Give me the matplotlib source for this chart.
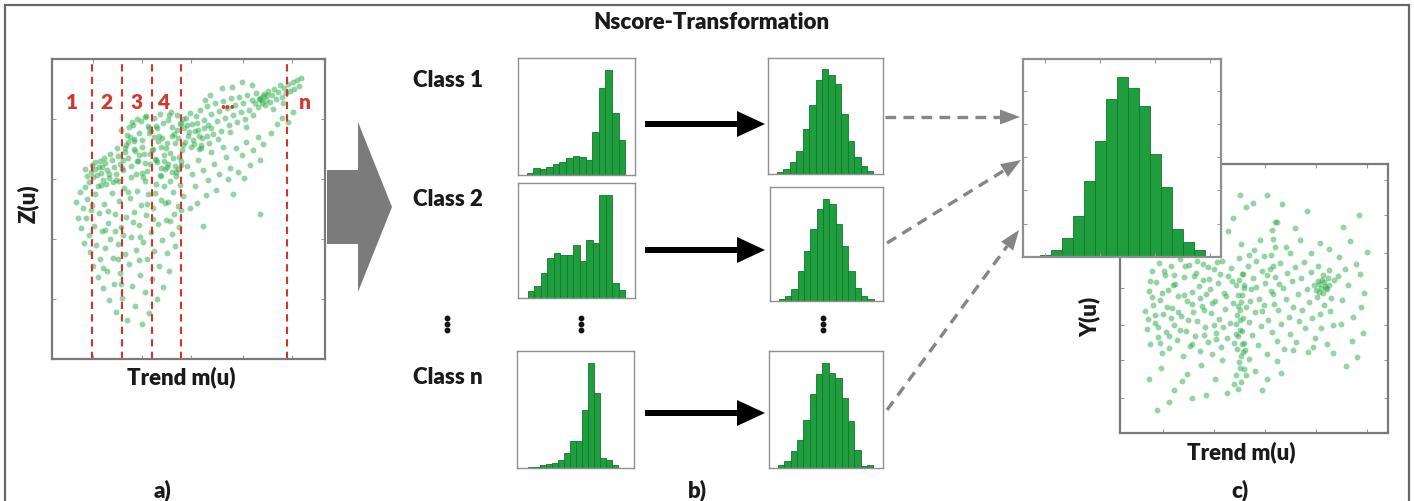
import numpy as np
import matplotlib
matplotlib.use("Agg")
import matplotlib.pyplot as plt
from matplotlib.patches import Polygon, FancyArrow

plt.rcParams['font.family'] = ['Lato', 'DejaVu Sans']

# ---------------- data ----------------
# scatter a) : trend m(u) vs Z(u)  (axis-fraction units 0..100), by region of the cloud
a_band_left = [(14.2,62.5),(15.1,60.8),(15.8,63.4),(16.5,61.2),(17.3,64.0),(18.0,62.1),(18.8,59.7),(19.5,65.2),
               (20.3,63.0),(21.0,60.4),(21.8,66.5),(22.6,64.1),(23.3,61.8),(24.1,67.8),(24.8,65.0),(13.6,58.9),
               (16.9,57.6),(19.9,58.3),(22.2,59.1),(14.8,64.7),(17.7,66.0),(21.4,68.2),(23.9,70.3),(20.7,61.6),(18.4,63.9),
               (13.0,61.0),(12.2,63.5),(15.6,65.8),(19.0,67.0),(24.5,59.3)]
a_dense_upper_x = [25.3,26.8,27.4,28.9,29.6,30.2,31.7,32.5,33.1,34.8,35.4,36.9,37.3,38.6,39.2,40.7,41.5,42.3,43.8,44.4,
                   45.9,46.2,47.6,26.1,27.9,29.2,30.8,32.0,33.6,34.1,35.9,37.5,38.0,39.8,41.0,42.9,44.0,45.3,46.8,47.9,
                   25.8,28.3,30.5,31.1,33.9,36.2,38.9,40.1,42.6,43.1,45.7,47.1,26.6,29.9,32.8,35.0,37.8,39.5,41.9,44.7,
                   46.5,48.0,27.2,31.4,34.5,36.6,40.4,43.5,46.0,28.7,33.3,38.3,41.2,44.9,30.0,35.7,42.0,47.3,
                   48.8,50.2,51.7,53.0,54.5,55.6,56.9,58.2,49.5,52.4,54.0,57.5,50.9,53.8,47.2,45.0,42.5,40.0,38.2,36.0,
                   33.0,31.0,28.0,26.0]
a_dense_upper_y = [76.2,70.5,74.8,64.3,78.1,72.6,67.9,79.4,73.0,62.8,76.9,70.1,80.3,65.7,74.2,78.8,63.5,71.9,77.4,67.0,
                   81.2,73.6,69.8,66.4,72.3,79.0,61.7,75.5,68.2,80.7,64.9,73.9,77.8,70.8,66.1,81.5,74.5,62.3,78.3,71.4,
                   63.8,77.2,69.3,80.1,65.2,75.9,72.7,61.1,79.6,68.7,76.4,64.6,68.9,73.3,62.0,77.6,66.8,81.8,70.4,75.1,
                   67.5,79.9,71.2,65.9,80.9,69.6,73.7,82.4,63.2,74.0,60.8,77.0,68.0,72.1,70.0,75.3,64.0,78.6,
                   72.3,75.6,73.0,78.8,71.2,76.9,74.3,77.1,78.0,76.0,74.4,72.1,70.6,69.9,66.0,64.5,65.0,63.6,66.3,68.5,
                   70.6,66.0,67.1,63.0]
a_lower = [(8.9,52.3),(9.6,47.1),(10.3,55.8),(10.8,43.6),(11.4,50.2),(11.9,38.7),(12.5,46.9),(12.8,53.4),(13.4,41.2),
           (13.9,35.6),(14.3,49.8),(14.9,30.9),(15.4,44.3),(15.8,54.9),(16.2,38.1),(16.7,27.4),(17.1,48.6),(17.6,33.2),
           (18.2,42.7),(18.6,23.8),(19.1,51.7),(19.5,36.9),(20.0,29.3),(20.4,45.5),(20.9,19.6),(21.3,40.1),(21.8,55.3),
           (22.2,33.7),(22.7,24.9),(23.1,48.2),(23.6,15.8),(24.0,38.5),(24.5,52.6),(24.9,28.7),(25.4,43.9),(25.8,20.3),
           (26.3,57.0),(26.7,35.1),(27.2,47.4),(27.6,12.9),(28.1,31.6),(28.5,53.8),(29.0,40.6),(29.4,24.2),(29.9,49.0),
           (30.3,17.7),(30.8,36.3),(31.2,56.1),(31.7,44.8),(32.1,27.9),(32.6,51.3),(33.0,11.8),(33.5,38.9),(33.9,22.5),
           (34.4,47.9),(34.8,33.4),(35.3,55.0),(35.7,15.2),(36.2,42.3),(36.6,26.6),(37.1,50.5),(37.5,36.0),(38.0,58.4),
           (38.4,19.9),(38.9,45.1),(39.3,31.0),(39.8,53.1),(40.2,39.7),(40.7,24.0),(41.1,57.6),(41.6,46.2),(42.0,35.3),
           (42.5,52.2),(42.9,29.5),(43.4,59.3),(43.8,41.8),(44.3,55.7),(44.7,48.5),(45.2,37.6),(45.6,60.9),(46.1,51.0),
           (46.5,44.0),(47.0,57.9),(47.4,49.6),(47.9,54.2),(12.1,57.4),(17.9,58.1),(23.4,59.8),(28.8,60.6),(34.1,59.5),
           (39.6,61.2),(44.1,62.4),(20.6,49.3),(26.0,41.4),(31.9,33.0),(36.9,46.6),(24.3,33.3),(19.3,43.0),(14.6,51.4),
           (29.6,45.7),(34.9,51.8),(41.4,51.9),(27.9,55.6),(22.9,42.6),(37.7,55.5),(32.4,40.8),(43.1,45.9),(18.8,30.5),
           (25.1,25.0)]
a_right_band = [(48.3,77.1),(49.1,80.4),(49.8,74.2),(50.6,82.0),(51.3,78.3),(52.1,71.6),(52.8,80.9),(53.6,76.5),
                (54.3,83.1),(55.1,73.8),(55.8,79.7),(56.6,84.4),(57.3,77.9),(58.1,81.6),(58.8,74.9),(59.6,85.3),
                (60.3,79.2),(61.1,82.8),(61.8,76.1),(62.6,86.0),(63.3,80.5),(64.1,83.7),(64.8,78.0),(65.6,86.9),
                (66.3,81.4),(67.1,84.6),(67.8,79.1),(68.6,87.5),(69.3,82.3),(70.1,85.2),(70.8,80.0),(71.6,88.1),
                (72.3,83.0),(73.1,86.3),(73.8,81.2),(74.6,88.8),(75.3,84.1),(76.1,87.0),(76.8,85.5),(77.6,88.4),
                (78.3,86.2),(79.1,89.3),(79.8,85.8),(80.6,88.0),(81.3,90.1),(82.1,86.7),(82.8,89.0),(83.6,91.2),
                (84.3,87.4),(85.1,90.3),(85.8,88.6),(86.6,91.8),(87.3,89.5),(88.1,92.4),(88.8,90.0),(89.6,93.0),
                (90.3,91.1),(91.1,93.6),(77.2,87.6),(76.4,86.4),(78.9,87.9),(75.7,86.8),(74.2,85.4),(77.9,84.7),
                (57.8,88.1),(62.2,90.3),(69.7,92.2),(66.1,90.6),(73.4,91.5),(55.9,86.2),(80.9,83.5),(84.6,85.3),
                (60.9,73.4),(65.3,75.6),(71.2,77.3)]
a_sparse = [(49.4,64.2),(51.2,61.7),(53.5,66.3),(55.3,62.9),(57.1,59.6),(59.4,65.1),(61.2,61.8),(63.6,67.4),
            (65.1,63.6),(67.3,70.2),(69.5,68.1),(71.2,72.4),(73.7,69.7),(75.4,74.1),(77.2,71.8),(52.3,57.6),
            (56.5,54.8),(60.2,56.3),(64.4,60.1),(68.2,62.3),(72.6,64.7),(76.3,66.2),(80.1,75.4),(82.4,78.2),
            (84.2,80.3),(86.3,79.1),(88.4,82.2),(66.2,55.1),(55.4,44.2),(76.1,48.3),(70.3,60.2),(50.4,50.3),
            (53.2,52.1),(62.5,70.8),(58.3,68.9),(54.7,70.4)]
class_edges = [14.7, 25.6, 36.6, 47.3, 86.1]
class_labels = ['1', '2', '3', '4', '...', 'n']
class_label_x = [7.3, 19.8, 31.0, 40.7, 64.5, 92.7]

# histograms (bar heights)
class1_raw = [5, 22, 18, 25, 32, 40, 50, 58, 55, 45, 130, 260, 313, 185, 105]
class2_raw = [20, 35, 75, 120, 135, 130, 128, 160, 110, 175, 165, 310, 310, 45, 25]
classn_raw = [2, 4, 10, 12, 15, 25, 45, 80, 80, 175, 315, 225, 30, 25, 8]
class1_ns = [5, 15, 35, 70, 135, 205, 280, 314, 295, 270, 180, 100, 50, 25, 10]
class2_ns = [5, 15, 35, 90, 150, 215, 275, 307, 290, 230, 165, 90, 40, 15, 5]
classn_ns = [8, 20, 50, 85, 145, 220, 280, 315, 285, 270, 210, 140, 55, 5, 10]
combined_ns = [5, 22, 58, 122, 228, 350, 475, 540, 508, 455, 310, 210, 85, 45, 20]

# scatter c) : trend m(u) vs Y(u), by region of the cloud
c_main = [(9.4,45.2),(10.1,38.6),(10.7,52.9),(11.3,33.1),(11.8,60.4),(12.4,47.7),(12.9,41.0),(13.5,56.2),(14.0,35.8),
          (14.6,63.3),(15.1,49.5),(15.7,29.9),(16.2,44.1),(16.8,58.7),(17.3,37.4),(17.9,53.0),(18.4,31.6),(19.0,61.9),
          (19.5,46.3),(20.1,40.2),(20.6,55.4),(21.2,34.7),(21.7,50.8),(22.3,64.5),(22.8,43.4),(23.4,28.6),(23.9,57.9),
          (24.5,38.0),(25.0,48.9),(25.6,62.6),(26.1,32.5),(26.7,52.4),(27.2,45.0),(27.8,36.1),(28.3,59.6),(28.9,41.7),
          (29.4,54.6),(30.0,30.4),(30.5,47.2),(31.1,63.0),(31.6,39.3),(32.2,51.6),(32.7,34.0),(33.3,57.1),(33.8,44.6),
          (34.4,29.2),(34.9,60.8),(35.5,49.1),(36.0,37.0),(36.6,55.9),(37.1,42.5),(37.7,31.9),(38.2,64.0),(38.8,52.0),
          (39.3,46.0),(39.9,35.2),(40.4,58.3),(41.0,40.8),(41.5,61.5),(42.1,48.2),(42.6,33.4),(43.2,55.0),(43.7,43.8),
          (44.3,65.2),(44.8,38.4),(45.4,51.2),(45.9,59.0),(46.5,30.7),(47.0,46.7),(47.6,62.2),(48.1,41.3),(48.7,53.7),
          (49.2,36.5),(49.8,57.5),(50.3,44.9),(50.9,63.8),(51.4,32.8),(52.0,50.0),(52.5,39.6),(53.1,60.1),(53.6,47.4),
          (54.2,55.6),(54.7,29.5),(55.3,42.0),(55.8,61.0),(56.4,52.7),(56.9,37.7),(57.5,48.0),(58.0,58.0),(58.6,34.3),
          (59.1,45.6),(59.7,63.1),(60.2,40.5),(60.8,54.0),(61.3,31.2),(61.9,49.8),(62.4,59.4),(63.0,43.0),(63.5,36.8),
          (64.1,56.5),(64.6,47.0),(65.2,61.8),(65.7,33.9),(66.3,51.5),(66.8,41.6),(67.4,57.8),(67.9,45.9),(68.5,63.6),
          (69.0,38.9),(69.6,53.4),(70.1,30.1),(70.7,48.6),(71.2,59.9),(71.8,42.9),(72.3,55.1),(72.9,35.5),(73.4,50.6),
          (74.0,62.0),(74.5,44.4),(75.1,39.0),(75.6,58.6),(76.2,47.6),(76.7,53.9),(77.3,33.0),(77.8,60.5),(78.4,45.3),
          (78.9,50.1),(79.5,40.0),(80.0,56.8),
          (13.2,44.0),(15.5,52.1),(17.6,47.0),(19.7,55.0),(21.5,45.1),(23.7,51.2),(25.3,41.9),(27.5,58.5),(29.7,50.3),
          (31.4,45.8),(33.6,53.5),(35.2,40.1),(37.4,59.2),(39.6,50.9),(41.8,56.6),(43.9,47.1),(46.2,55.2),(48.4,49.0),
          (50.6,54.3),(52.8,45.2),(54.9,58.8),(57.2,51.6),(59.4,55.3),(14.2,39.3),(18.1,36.2),(22.5,38.3),(26.9,48.0),
          (30.8,56.7),(34.2,48.3),(38.5,39.5),(16.4,60.1),(20.3,58.9),(24.2,62.2),(28.6,64.0),(32.9,61.7),(36.3,63.4),
          (12.0,50.6),(11.1,56.5),(10.4,42.3),(14.8,33.6),(18.9,42.8),(27.0,33.0),(31.3,36.6),(35.9,34.8)]
c_streak = [(44.1,16.2),(45.3,18.9),(43.2,21.7),(46.1,23.8),(44.5,26.4),(45.0,28.8),(43.6,31.3),(46.4,33.5),
            (44.0,35.9),(45.6,38.1),(43.4,40.6),(46.0,42.9),(44.7,45.7),(45.2,48.6),(43.9,51.4),(46.3,53.8),
            (44.3,56.9),(45.5,59.1),(42.4,18.2),(47.1,21.5),(44.8,24.0),(45.9,30.2),(43.1,36.8),(44.6,42.1),(45.4,33.0)]
c_cluster = [(73.2,53.1),(74.1,55.3),(75.0,54.0),(76.2,56.2),(77.1,53.4),(75.3,57.0),(78.0,55.1),(74.4,52.3),
             (76.5,54.5),(73.8,56.6),(77.6,57.5),(75.8,52.0),
             (57.1,62.2),(56.3,66.1),(58.0,69.2),(57.2,72.0),(56.6,75.3),(57.9,78.4)]
c_upper = [(44.7,88.5),(54.7,88.5),(49.7,85.4),(47.2,84.0),(58.4,78.5),(89.0,81.0),(69.6,82.4),(52.2,71.8),
           (62.1,69.3),(67.0,71.8),(74.5,70.5),(83.2,76.7),(92.0,67.4),(40.2,75.1),(45.3,70.2),(50.1,68.0),
           (65.2,76.3),(78.1,68.4),(86.0,71.2),(42.3,80.1),(60.4,85.0),(71.3,67.0),(81.6,65.5),(63.4,66.8),
           (48.0,66.2),(53.9,65.8)]
c_lower = [(11.0,20.0),(13.7,8.7),(20.0,16.0),(27.0,13.0),(32.0,14.0),(40.0,15.0),(53.0,16.0),(54.7,20.0),
           (15.2,24.1),(25.1,22.0),(35.3,20.2),(50.2,23.1),(60.1,22.3),(18.4,11.7),(30.2,25.4),(38.1,27.0),
           (48.3,27.6),(58.6,26.8),(23.0,19.3)]
c_right = [(83.0,49.5),(87.0,43.0),(90.7,37.0),(89.4,59.0),(84.5,25.0),(79.5,29.7),(72.0,32.0),(64.6,31.0),
           (91.0,52.0),(88.0,63.0),(85.0,55.0),(82.3,40.6),(86.5,34.2),(81.5,58.2),(90.1,46.8),(84.0,61.0),(88.6,28.4)]

# ---------------- style ----------------
W, H = 1414, 501
GREEN_PT = '#2aab47'
BAR_FACE = '#1f9d3f'
BAR_EDGE = '#117a2c'
SPINE = '#7a7a7a'
TXT = '#1a1a1a'
FS = 16
FW = 'heavy'

fig = plt.figure(figsize=(W / 100, H / 100), dpi=100)
fig.patch.set_facecolor('white')

def rect(x0, y0, x1, y1):
    return [x0 / W, 1 - y1 / H, (x1 - x0) / W, (y1 - y0) / H]

# overlay in pixel coordinates
ov = fig.add_axes([0, 0, 1, 1], zorder=0)
ov.set_xlim(0, W)
ov.set_ylim(H, 0)
ov.axis('off')
ov.patch.set_alpha(0)

def style_box(ax, color=SPINE, lw=1.4, ticks=True):
    for s in ax.spines.values():
        s.set_color(color)
        s.set_linewidth(lw)
    if ticks:
        ax.tick_params(direction='in', length=3, width=0.8, colors='#999999',
                       top=True, right=True, labelleft=False, labelbottom=False)
    else:
        ax.set_xticks([])
        ax.set_yticks([])

def xy(pairs):
    return [p[0] for p in pairs], [p[1] for p in pairs]

MS, MA = 18, 0.5

# ---- panel a) scatter ----
axa = fig.add_axes(rect(52, 59, 325, 359), zorder=2)
for pts in [a_band_left, list(zip(a_dense_upper_x, a_dense_upper_y)), a_lower, a_right_band, a_sparse]:
    px, py = xy(pts)
    axa.scatter(px, py, s=MS, color=GREEN_PT, alpha=MA, marker='o', linewidths=0)
axa.set_xlim(0, 100)
axa.set_ylim(0, 100)
axa.set_xticks([15, 33, 51, 70, 88])
axa.set_yticks([20, 40, 60, 80])
style_box(axa, lw=1.6)
for xe in class_edges:
    axa.axvline(xe, color='#d8332b', lw=1.5, dashes=(3.5, 2.5))
for lab, lx in zip(class_labels, class_label_x):
    axa.text(lx, 85.5, lab, color='#cf3a30', fontsize=15, fontweight=FW,
             ha='center', va='center')
ov.text(28, 204, 'Z(u)', rotation=90, fontsize=FS, fontweight=FW, color=TXT,
        ha='center', va='center')
ov.text(181, 377, 'Trend m(u)', fontsize=FS, fontweight=FW, color=TXT,
        ha='center', va='center')
ov.text(163, 490, 'a)', fontsize=FS, fontweight=FW, color=TXT, ha='center', va='center')

# big gray arrow
ov.add_patch(Polygon([(327, 170), (358, 170), (358, 122), (392, 207), (358, 292),
                      (358, 244), (327, 244)], closed=True, color='#7b7b7b', lw=0))

# ---- panel b) histograms ----
def hist(box, vals, xl, ytop, ticks=False, lw=1.0):
    ax = fig.add_axes(rect(*box), zorder=2)
    ax.bar(np.arange(len(vals)), vals, width=1.0, color=BAR_FACE,
           edgecolor=BAR_EDGE, linewidth=0.6)
    ax.set_xlim(*xl)
    ax.set_ylim(0, ytop)
    style_box(ax, color='#8f8f8f', lw=lw, ticks=ticks)
    return ax

hist((518, 58, 635, 175), class1_raw, (-1.8, 16.0), 350)
hist((518, 183, 635, 298), class2_raw, (-2.0, 16.0), 345)
hist((517, 351, 634, 468), classn_raw, (-2.3, 17.1), 350)
hist((768, 58, 883, 174), class1_ns, (-1.9, 16.0), 347)
hist((770, 187, 883, 301), class2_ns, (-1.9, 16.0), 342)
hist((769, 351, 883, 468), classn_ns, (-1.9, 16.0), 350)

ov.text(711, 22, 'Nscore-Transformation', fontsize=FS, fontweight=FW, color=TXT,
        ha='center', va='center')
for lab, yy in zip(['Class 1', 'Class 2', 'Class n'], [80, 200, 378]):
    ov.text(413, yy, lab, fontsize=FS, fontweight=FW, color=TXT, ha='left', va='center')
for xx in [447, 581, 823]:
    ov.plot([xx, xx, xx], [318, 324, 330], 'o', color='#111111', ms=3.2)
ov.text(697, 490, 'b)', fontsize=FS, fontweight=FW, color=TXT, ha='center', va='center')

for yy in [124, 250, 413]:
    ov.add_patch(FancyArrow(645, yy, 120, 0, width=6, head_width=26, head_length=28,
                            length_includes_head=True, color='black', lw=0))

# gray dashed arrows
def dashed_arrow(x0, y0, x1, y1, hl=20, hw=15, col='#858585'):
    d = np.array([x1 - x0, y1 - y0], float)
    L = np.hypot(*d)
    u = d / L
    n = np.array([-u[1], u[0]])
    base = np.array([x1, y1]) - u * hl
    ov.plot([x0, base[0]], [y0, base[1]], color=col, lw=2.4, dashes=(3.2, 2.2),
            solid_capstyle='butt', dash_capstyle='butt')
    tri = [tuple(np.array([x1, y1])), tuple(base + n * hw / 2), tuple(base - n * hw / 2)]
    ov.add_patch(Polygon(tri, closed=True, color=col, lw=0))

dashed_arrow(885, 117, 1020, 117)
dashed_arrow(887, 243, 1021, 160)
dashed_arrow(887, 410, 1019, 230)

# ---- panel c) ----
axc = fig.add_axes(rect(1120, 164, 1388, 433), zorder=2)
for pts in [c_main, c_streak, c_cluster, c_upper, c_lower, c_right]:
    px, py = xy(pts)
    axc.scatter(px, py, s=MS, color=GREEN_PT, alpha=MA, marker='o', linewidths=0)
axc.set_xlim(0, 100)
axc.set_ylim(0, 100)
axc.set_xticks([16, 35, 54, 73, 92])
axc.set_yticks([13, 27, 40, 54, 67, 81, 94])
style_box(axc, lw=1.6)

hist((1023, 59, 1221, 257), combined_ns, (-2.0, 16.0), 595, ticks=True, lw=1.6)

ov.text(1090, 317, 'Y(u)', rotation=90, fontsize=FS, fontweight=FW, color=TXT,
        ha='center', va='center')
ov.text(1241, 452, 'Trend m(u)', fontsize=FS, fontweight=FW, color=TXT,
        ha='center', va='center')
ov.text(1240, 490, 'c)', fontsize=FS, fontweight=FW, color=TXT, ha='center', va='center')

# outer frame
ov.plot([5, 5, 1409, 1409], [H + 5, 5, 5, H + 5], color='#666666', lw=1.6,
        solid_joinstyle='miter')

fig.savefig('out.png', dpi=100, facecolor='white')
